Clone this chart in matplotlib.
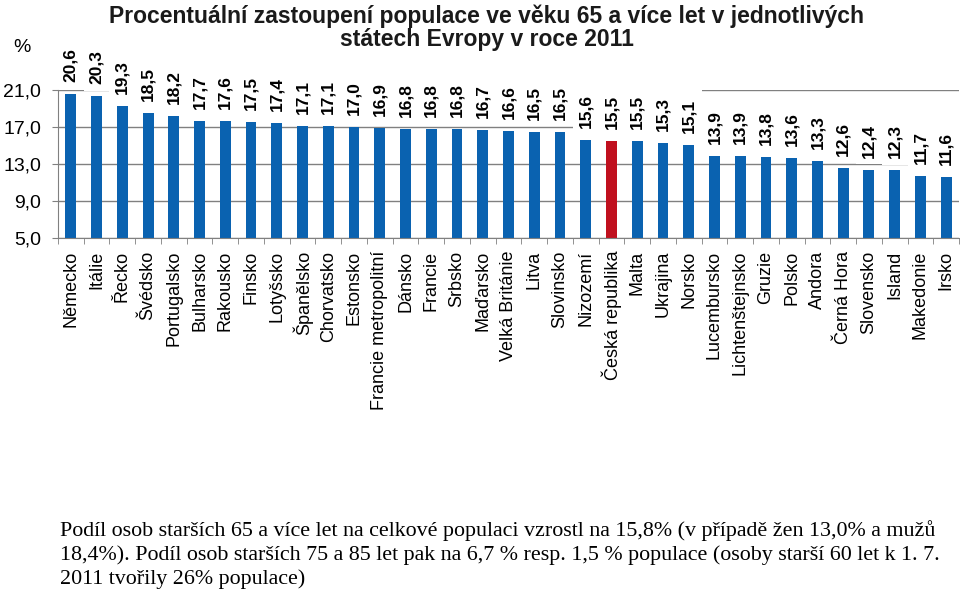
import matplotlib
matplotlib.use("Agg")
import matplotlib.pyplot as plt
from matplotlib.patches import Rectangle
import numpy as np

countries = [
    "Německo", "Itálie", "Řecko", "Švédsko", "Portugalsko", "Bulharsko",
    "Rakousko", "Finsko", "Lotyšsko", "Španělsko", "Chorvatsko", "Estonsko",
    "Francie metropolitní", "Dánsko", "Francie", "Srbsko", "Maďarsko",
    "Velká Británie", "Litva", "Slovinsko", "Nizozemí", "Česká republika",
    "Malta", "Ukrajina", "Norsko", "Lucembursko", "Lichtenštejnsko", "Gruzie",
    "Polsko", "Andora", "Černá Hora", "Slovensko", "Island", "Makedonie", "Irsko",
]
values = [
    20.6, 20.3, 19.3, 18.5, 18.2, 17.7, 17.6, 17.5, 17.4, 17.1, 17.1, 17.0,
    16.9, 16.8, 16.8, 16.8, 16.7, 16.6, 16.5, 16.5, 15.6, 15.5, 15.5, 15.3,
    15.1, 13.9, 13.9, 13.8, 13.6, 13.3, 12.6, 12.4, 12.3, 11.7, 11.6,
]
highlight = "Česká republika"
y_ticks = [5.0, 9.0, 13.0, 17.0, 21.0]

title = ("Procentuální zastoupení populace ve věku 65 a více let v jednotlivých\n"
         "státech Evropy v roce 2011")
note = ("Podíl osob starších 65 a více let na celkové populaci vzrostl na 15,8% (v případě žen 13,0% a mužů\n"
        "18,4%). Podíl osob starších 75 a 85 let pak na 6,7 % resp. 1,5 % populace (osoby starší 60 let k 1. 7.\n"
        "2011 tvořily 26% populace)")

blue = "#0a62b0"
red = "#c0101e"


def fmt(v):
    return f"{v:.1f}".replace(".", ",")


def main():
    plt.rcParams["font.family"] = ["Liberation Sans", "DejaVu Sans"]

    fig = plt.figure(figsize=(9.6, 5.94), dpi=100)
    ax = fig.add_axes([58 / 960, 1 - 238 / 594, 901 / 960, 148 / 594])

    x = np.arange(len(countries))
    colors = [red if c == highlight else blue for c in countries]
    bars = ax.bar(x, [v - y_ticks[0] for v in values], bottom=y_ticks[0],
                  width=0.42, color=colors, zorder=2)

    ax.set_xlim(-0.5, len(countries) - 0.5)
    ax.set_ylim(y_ticks[0], y_ticks[-1])

    # data units per pixel, for the white label boxes (excel hides gridlines behind them)
    dpp = (y_ticks[-1] - y_ticks[0]) / ax.get_window_extent().height

    for i, (b, v) in enumerate(zip(bars, values)):
        ax.add_patch(Rectangle((i - 0.5, v + 5.5 * dpp), 1.0, 49.5 * dpp,
                               facecolor="white", edgecolor="none",
                               zorder=3, clip_on=False))
        ax.annotate(fmt(v), (b.get_x() + b.get_width() / 2, v),
                    xytext=(0, 12), textcoords="offset pixels",
                    rotation=90, ha="center", va="bottom",
                    fontsize=12.5, fontweight="bold", color="black",
                    zorder=4)

    ax.set_yticks(y_ticks)
    ax.set_yticklabels([fmt(t) for t in y_ticks], fontsize=14)
    ax.yaxis.grid(True, color="#808080", linewidth=1.0)
    ax.set_axisbelow(True)

    ax.set_xticks(x)
    ax.set_xticklabels(countries, rotation=90, fontsize=13, va="top")
    ax.set_xticks(np.arange(len(countries) + 1) - 0.5, minor=True)
    ax.tick_params(axis="x", which="major", length=0, pad=9)
    ax.tick_params(axis="x", which="minor", length=4, color="#808080")
    ax.tick_params(axis="y", length=4, color="#808080", pad=8)

    for side in ["top", "right"]:
        ax.spines[side].set_visible(False)
    for side in ["left", "bottom"]:
        ax.spines[side].set_color("#808080")

    fig.text(0.507, 1 - 4 / 594, title, ha="center", va="top",
             fontsize=16.5, fontweight="bold", color="#1a1a1a",
             multialignment="center", linespacing=1.04)
    fig.text(22 / 960, 1 - 48 / 594, "%", ha="center", va="center", fontsize=14)

    fig.text(60 / 960, 1 - 520 / 594, note, ha="left", va="top",
             fontsize=15.8, family="Liberation Serif", linespacing=1.3)

    plt.savefig("out.png", dpi=100)


if __name__ == "__main__":
    main()
